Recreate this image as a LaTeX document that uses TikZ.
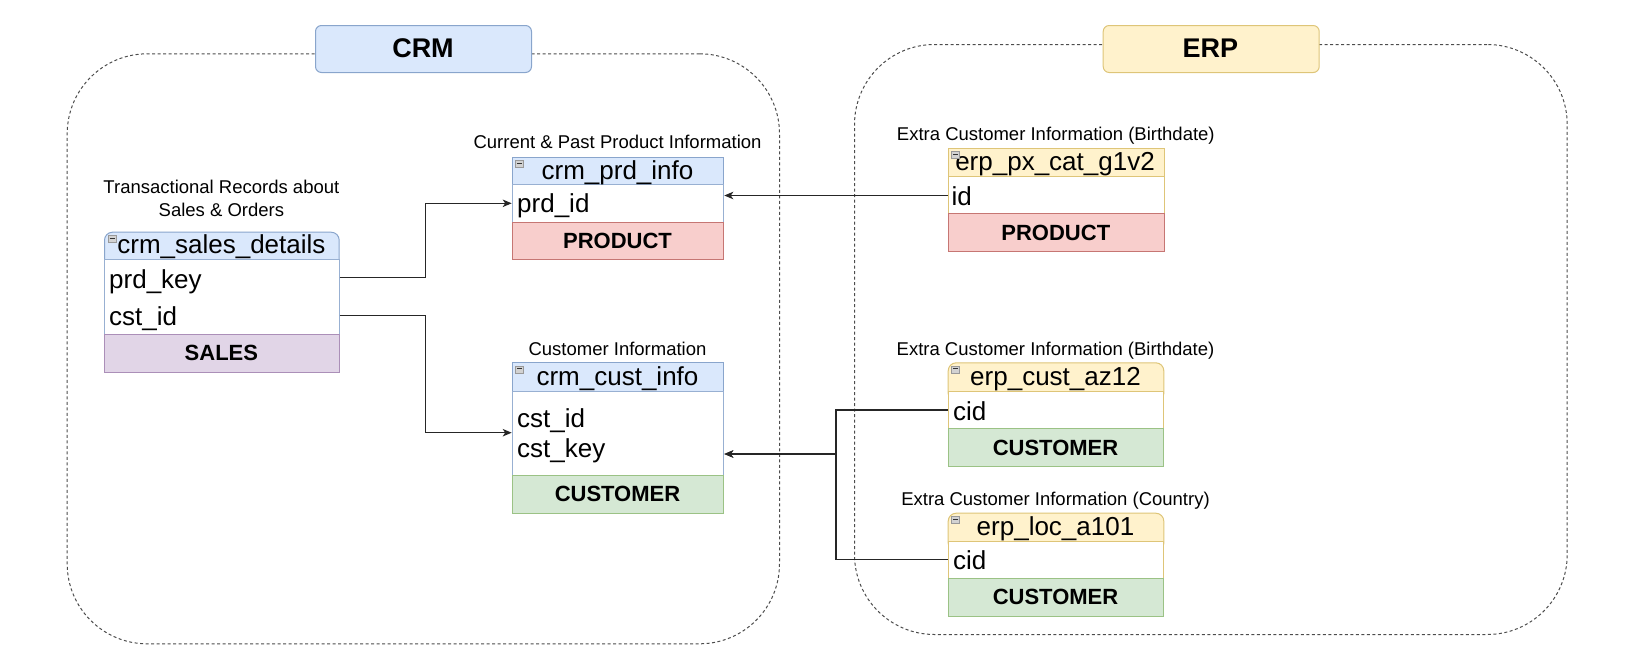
\documentclass[tikz,border=0pt]{standalone}
\usepackage{fontspec}
\setmainfont{Liberation Sans}
\usetikzlibrary{arrows.meta,calc}

\definecolor{bluefill}{HTML}{DAE8FC}
\definecolor{bluedraw}{HTML}{6C8EBF}
\definecolor{yelfill}{HTML}{FFF2CC}
\definecolor{yeldraw}{HTML}{D6B656}
\definecolor{redfill}{HTML}{F8CECC}
\definecolor{reddraw}{HTML}{B85450}
\definecolor{grnfill}{HTML}{D5E8D4}
\definecolor{grndraw}{HTML}{82B366}
\definecolor{purfill}{HTML}{E1D5E7}
\definecolor{purdraw}{HTML}{9673A6}

\tikzset{
  x=1pt, y=-1pt,
  box/.style={draw, line width=1pt, inner sep=0pt, anchor=north west},
  bluehead/.style={box, fill=bluefill, draw=bluedraw!80},
  yelhead/.style={box, fill=yelfill, draw=yeldraw!80},
  bluebody/.style={box, fill=white, draw=bluedraw!70},
  yelbody/.style={box, fill=white, draw=yeldraw!80},
  redfoot/.style={box, fill=redfill, draw=reddraw!80},
  grnfoot/.style={box, fill=grnfill, draw=grndraw!80},
  purfoot/.style={box, fill=purfill, draw=purdraw!80},
  hdrtxt/.style={anchor=base, inner sep=0pt, font=\fontsize{26}{30}\selectfont},
  rowtxt/.style={anchor=base west, inner sep=0pt, font=\fontsize{26}{30}\selectfont},
  foottxt/.style={anchor=base, inner sep=0pt, font=\fontsize{22}{26}\selectfont\bfseries},
  captxt/.style={anchor=base, inner sep=0pt, font=\fontsize{18.5}{22}\selectfont},
  grouptitle/.style={draw, line width=1pt, rounded corners=6pt, inner sep=0pt,
    anchor=north west, minimum width=216pt, minimum height=47pt},
  grouptxt/.style={anchor=base, inner sep=0pt, font=\fontsize{27}{32}\selectfont\bfseries},
  groupbox/.style={draw=black!70, line width=1pt, dash pattern=on 3pt off 2.5pt,
    rounded corners=80pt, inner sep=0pt, anchor=north west},
  conn/.style={draw=black!85, line width=1.1pt},
  arr/.style={conn, -{Stealth[length=9pt,width=7.5pt,inset=2.5pt]}},
  collapse/.style={fill=gray!35, draw=gray!80, line width=0.6pt},
}

% small collapse marker in a table header: #1 = x, #2 = y of header top-left
\newcommand\collapsemark[2]{%
  \draw[collapse] (#1+4,#2+4) rectangle ++(8,7);
  \draw[black!80, line width=0.8pt] (#1+5.5,#2+6.5) -- ++(5,0);
}

\begin{document}
\begin{tikzpicture}
\useasboundingbox (0,0) rectangle (1625,662);

% ---------- source system groups ----------
\node[groupbox, minimum width=712.3pt, minimum height=590pt] (crmgrp) at (66.7,53.3) {};
\node[groupbox, minimum width=712.7pt, minimum height=590pt] (erpgrp) at (854,44) {};

\node[grouptitle, fill=bluefill, draw=bluedraw!80] (crmtitle) at (315,25) {};
\node[grouptxt] (crmtxt) at (423,57.7) {CRM};
\node[grouptitle, fill=yelfill, draw=yeldraw!80] (erptitle) at (1102.7,25) {};
\node[grouptxt] (erptxt) at (1210.4,57.7) {ERP};

% ---------- crm_sales_details ----------
\node[captxt] (sdcap1) at (221.4,193.3) {Transactional Records about};
\node[captxt] (sdcap2) at (221.4,216) {Sales \& Orders};
\node[bluehead, rounded corners=8pt, minimum width=234.7pt, minimum height=37.3pt] (sdhead) at (104,231.7) {};
\node[bluebody, minimum width=234.7pt, minimum height=75pt] (sdbody) at (104,259) {};
\node[purfoot, minimum width=234.7pt, minimum height=38pt] (sdfoot) at (104,334) {};
\collapsemark{104}{231.7}
\node[hdrtxt] (sdname) at (221.4,253.9) {crm\_sales\_details};
\node[rowtxt] (sdrow1) at (109,288) {prd\_key};
\node[rowtxt] (sdrow2) at (109,325.5) {cst\_id};
\node[foottxt] (sdtag) at (221.4,360.8) {SALES};

% ---------- crm_prd_info ----------
\node[captxt] (prdcap) at (617.5,148.7) {Current \& Past Product Information};
\node[bluehead, minimum width=211.6pt, minimum height=27.6pt] (prdhead) at (511.7,156.7) {};
\node[bluebody, minimum width=211.6pt, minimum height=37.4pt] (prdbody) at (511.7,184.3) {};
\node[redfoot, minimum width=211.6pt, minimum height=37.6pt] (prdfoot) at (511.7,221.7) {};
\collapsemark{511.7}{156.7}
\node[hdrtxt] (prdname) at (617.5,179) {crm\_prd\_info};
\node[rowtxt] (prdrow1) at (517,212) {prd\_id};
\node[foottxt] (prdtag) at (617.5,248.3) {PRODUCT};

% ---------- crm_cust_info ----------
\node[captxt] (custcap) at (617.5,355) {Customer Information};
\node[bluehead, minimum width=211.6pt, minimum height=28.4pt] (custhead) at (511.7,362.3) {};
\node[bluebody, minimum width=211.6pt, minimum height=84.3pt] (custbody) at (511.7,390.7) {};
\node[grnfoot, minimum width=211.6pt, minimum height=37.7pt] (custfoot) at (511.7,475) {};
\collapsemark{511.7}{362.3}
\node[hdrtxt] (custname) at (617.5,385) {crm\_cust\_info};
\node[rowtxt] (custrow1) at (517,427.5) {cst\_id};
\node[rowtxt] (custrow2) at (517,457) {cst\_key};
\node[foottxt] (custtag) at (617.5,501.7) {CUSTOMER};

% ---------- erp_px_cat_g1v2 ----------
\node[captxt] (pxcap) at (1055.8,140) {Extra Customer Information (Birthdate)};
\node[yelhead, minimum width=216.3pt, minimum height=28.3pt] (pxhead) at (947.7,147.7) {};
\node[yelbody, minimum width=216.3pt, minimum height=37.3pt] (pxbody) at (947.7,176) {};
\node[redfoot, minimum width=216.3pt, minimum height=37.7pt] (pxfoot) at (947.7,213.3) {};
\node[hdrtxt] (pxname) at (1055,170.5) {erp\_px\_cat\_g1v2};
\collapsemark{947.7}{147.7}
\node[rowtxt] (pxrow1) at (951.5,205) {id};
\node[foottxt] (pxtag) at (1055.8,240) {PRODUCT};

% ---------- erp_cust_az12 ----------
\node[captxt] (azcap) at (1055.5,355) {Extra Customer Information (Birthdate)};
\node[yelhead, rounded corners=8pt, minimum width=215.6pt, minimum height=38.7pt] (azhead) at (947.7,362.3) {};
\node[yelbody, minimum width=215.6pt, minimum height=37.3pt] (azbody) at (947.7,391) {};
\node[grnfoot, minimum width=215.6pt, minimum height=37.7pt] (azfoot) at (947.7,428.3) {};
\collapsemark{947.7}{362.3}
\node[hdrtxt] (azname) at (1055.5,385.2) {erp\_cust\_az12};
\node[rowtxt] (azrow1) at (953,420.3) {cid};
\node[foottxt] (aztag) at (1055.5,455) {CUSTOMER};

% ---------- erp_loc_a101 ----------
\node[captxt] (loccap) at (1055.5,505) {Extra Customer Information (Country)};
\node[yelhead, rounded corners=8pt, minimum width=215.6pt, minimum height=38pt] (lochead) at (947.7,512.7) {};
\node[yelbody, minimum width=215.6pt, minimum height=37.6pt] (locbody) at (947.7,540.7) {};
\node[grnfoot, minimum width=215.6pt, minimum height=37.4pt] (locfoot) at (947.7,578.3) {};
\collapsemark{947.7}{512.7}
\node[hdrtxt] (locname) at (1055.5,535.2) {erp\_loc\_a101};
\node[rowtxt] (locrow1) at (953,569.6) {cid};
\node[foottxt] (loctag) at (1055.5,604.8) {CUSTOMER};

% ---------- connector ports ----------
\coordinate (sdP)     at (sdbody.east |- 0,277.7);
\coordinate (sdC)     at (sdbody.east |- 0,315.3);
\coordinate (prdIn)   at (prdbody.west |- 0,203.3);
\coordinate (prdOut)  at (prdbody.east |- 0,195.5);
\coordinate (custIn)  at (custbody.west |- 0,432.7);
\coordinate (custOut) at (custbody.east |- 0,454);
\coordinate (pxId)    at (pxbody.west |- 0,195.5);
\coordinate (azCid)   at (azbody.west |- 0,410);
\coordinate (locCid)  at (locbody.west |- 0,559.3);

% ---------- relationships ----------
\draw[arr] (sdP) -| ($(sdP)!.5!(prdIn)$) |- (prdIn);
\draw[arr] (sdC) -| ($(sdC)!.5!(custIn)$) |- (custIn);
\draw[arr] (pxId) -- (prdOut);
\draw[arr] (azCid) -| ($(azCid)!.5!(custOut)$) |- (custOut);
\draw[arr] (locCid) -| ($(locCid)!.5!(custOut)$) |- (custOut);
\end{tikzpicture}
\end{document}
